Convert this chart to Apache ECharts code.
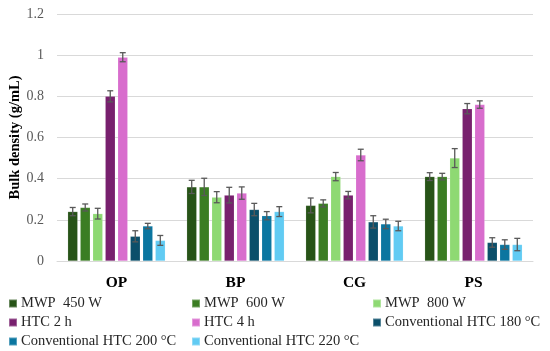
<!DOCTYPE html>
<html>
<head>
<meta charset="utf-8">
<script src="https://cdn.jsdelivr.net/npm/echarts@6/dist/echarts.min.js"></script>
<style>html,body{margin:0;padding:0;background:#fff;}#c{width:550px;height:351px;}</style>
</head>
<body>
<div id="c"></div>
<script>
const categories = ['OP', 'BP', 'CG', 'PS'];
const seriesNames = ['MWP  450 W', 'MWP  600 W', 'MWP  800 W', 'HTC 2 h', 'HTC 4 h',
  'Conventional HTC 180 °C', 'Conventional HTC 200 °C', 'Conventional HTC 220 °C'];
const colors = ['#275317', '#3b7d23', '#8ed973', '#78206e', '#d86dcd', '#0b4f6a', '#0b76a0', '#61cbf3'];
// values per series: [OP, BP, CG, PS]
const mwp450 = [0.24, 0.36, 0.27, 0.41];
const mwp600 = [0.26, 0.36, 0.28, 0.41];
const mwp800 = [0.23, 0.31, 0.41, 0.50];
const htc2h = [0.80, 0.32, 0.32, 0.74];
const htc4h = [0.99, 0.33, 0.515, 0.76];
const conv180 = [0.12, 0.25, 0.19, 0.09];
const conv200 = [0.17, 0.22, 0.18, 0.08];
const conv220 = [0.10, 0.24, 0.17, 0.08];
// error (±) per series
const err450 = [0.02, 0.032, 0.036, 0.019];
const err600 = [0.017, 0.042, 0.017, 0.016];
const err800 = [0.026, 0.027, 0.02, 0.046];
const err2h = [0.027, 0.038, 0.018, 0.025];
const err4h = [0.022, 0.03, 0.028, 0.018];
const err180 = [0.027, 0.03, 0.03, 0.023];
const err200 = [0.013, 0.02, 0.023, 0.023];
const err220 = [0.024, 0.024, 0.023, 0.03];
const yTicks = [0, 0.2, 0.4, 0.6, 0.8, 1, 1.2];

const values = [mwp450, mwp600, mwp800, htc2h, htc4h, conv180, conv200, conv220];
const errors = [err450, err600, err800, err2h, err4h, err180, err200, err220];

const CAT_GAP = 0.18, BAR_GAP = 0.25, N = values.length;
const font = "'Liberation Serif', serif";

const barSeries = values.map((v, i) => ({
  name: seriesNames[i], type: 'bar', data: v,
  barCategoryGap: (CAT_GAP * 100) + '%', barGap: (BAR_GAP * 100) + '%',
  itemStyle: { color: colors[i], borderColor: 'rgba(255,255,255,0.3)', borderWidth: 0.5 },
  emphasis: { disabled: true }
}));

const errData = [];
values.forEach((v, i) => v.forEach((val, c) => errData.push([c, val, errors[i][c], i])));

const errSeries = {
  type: 'custom', name: 'err', data: errData, encode: { x: 0, y: 1 }, z: 10,
  renderItem: function (params, api) {
    const c = api.value(0), val = api.value(1), e = api.value(2), si = api.value(3);
    const band = api.size([1, 0])[0];
    const remain = band * (1 - CAT_GAP);
    const bw = remain / (N + (N - 1) * BAR_GAP);
    const center = api.coord([c, val]);
    const x = center[0] - remain / 2 + si * bw * (1 + BAR_GAP) + bw / 2;
    const yHi = api.coord([c, val + e])[1];
    const yLo = api.coord([c, val - e])[1];
    const cap = 3;
    const style = { stroke: '#595959', lineWidth: 1.3 };
    return {
      type: 'group', children: [
        { type: 'line', shape: { x1: x, y1: yHi, x2: x, y2: yLo }, style },
        { type: 'line', shape: { x1: x - cap, y1: yHi, x2: x + cap, y2: yHi }, style },
        { type: 'line', shape: { x1: x - cap, y1: yLo, x2: x + cap, y2: yLo }, style }
      ]
    };
  }
};

// legend layout: 3 columns, reading order
const colLeft = [8, 191, 372];
const rowTop = [296, 315, 334];
const legends = seriesNames.map((name, k) => ({
  left: colLeft[k % 3], top: rowTop[Math.floor(k / 3)],
  icon: 'rect', itemWidth: 8, itemHeight: 8, itemGap: 0, padding: 0,
  textStyle: { fontFamily: font, fontSize: 14.5, color: '#262626', padding: [0, 0, 0, -1] },
  selectedMode: false, data: [name]
}));

const chart = echarts.init(document.getElementById('c'), null, { renderer: 'canvas' });
chart.setOption({
  animation: false,
  color: colors,
  textStyle: { fontFamily: font },
  grid: { left: 57, right: 17, top: 14, bottom: 90, outerBoundsMode: 'none', containLabel: false },
  legend: legends,
  xAxis: {
    type: 'category', data: categories,
    axisLine: { lineStyle: { color: '#d9d9d9', width: 1 } },
    axisTick: { show: false },
    axisLabel: { fontFamily: font, fontSize: 15.5, fontWeight: 'bold', color: '#000', margin: 14 }
  },
  yAxis: {
    type: 'value', min: 0, max: 1.2, interval: 0.2,
    name: 'Bulk density (g/mL)', nameLocation: 'middle', nameGap: 34, nameMoveOverlap: false,
    nameTextStyle: { fontFamily: font, fontSize: 14.5, fontWeight: 'bold', color: '#000' },
    axisLine: { show: false }, axisTick: { show: false },
    axisLabel: {
      fontFamily: font, fontSize: 14, color: '#595959', margin: 13,
      formatter: v => { const t = yTicks.find(k => Math.abs(k - v) < 1e-9); return t === undefined ? '' : String(t); }
    },
    splitLine: { lineStyle: { color: '#d9d9d9', width: 1 } }
  },
  series: barSeries.concat([errSeries])
});
</script>
</body>
</html>
